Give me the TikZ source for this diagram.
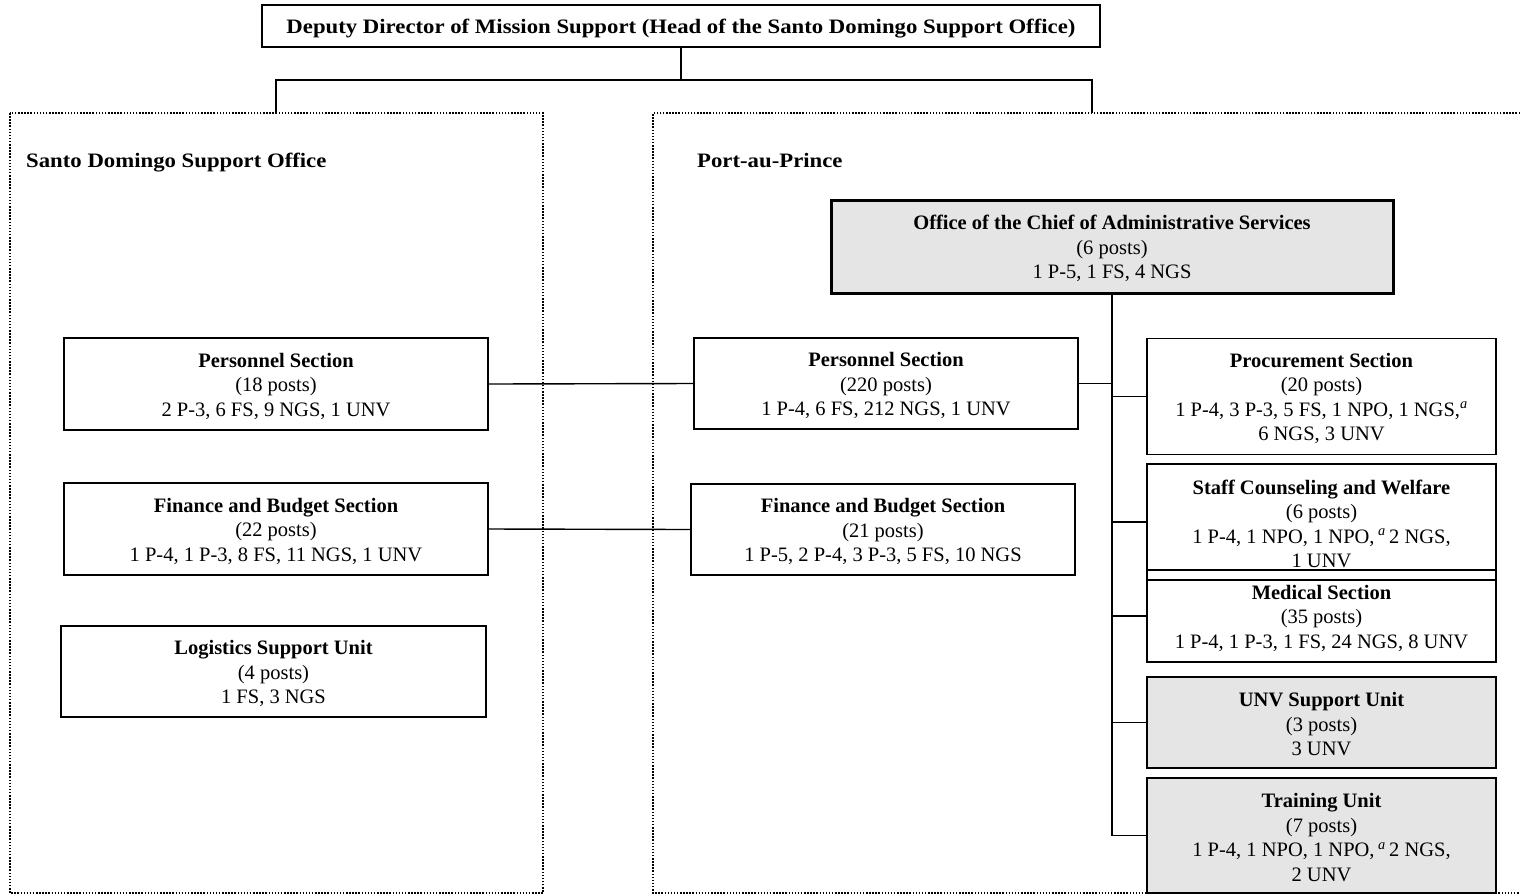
\documentclass[tikz,border=0pt]{standalone}
\usepackage{fontspec}
\setmainfont{Liberation Serif}
\newfontfamily\wideserif{Liberation Serif}[FakeStretch=1.11]
% box drawn as one node, its lines of text as a second node set slightly low
% #1 style, #2 name, #3 position, #4 width, #5 height, #6 text
\newcommand\orgbox[6]{%
  \node[#1, minimum width=#4, minimum height=#5] (#2) at #3 {};
  \node[boxtext] (#2-text) at ([yshift=-2pt]#2.center) {#6};}
\begin{document}
\begin{tikzpicture}[x=1pt,y=-1pt,
  every node/.style={font=\fontsize{20.5}{24.5}\selectfont},
  unit/.style={draw, line width=1.5pt, inner sep=0pt, anchor=center},
  shaded/.style={unit, fill=black!10},
  boxtext/.style={align=center, inner sep=0pt, anchor=center},
  link/.style={line width=1.4pt},
  region/.style={line width=1.5pt, dash pattern=on 1.5pt off 1.6pt},
  heading/.style={anchor=base west, inner sep=0pt, font=\fontsize{20.5}{24.5}\selectfont\wideserif\bfseries}]
\useasboundingbox (0,0) rectangle (1520,895);

% top of the hierarchy
\node[unit, minimum width=838pt, minimum height=42pt] (top) at (681,26) {};
\node[boxtext, font=\fontsize{20.5}{24.5}\selectfont\wideserif\bfseries] (top-text)
  at ([yshift=-3pt]top.center)
  {Deputy Director of Mission Support (Head of the Santo Domingo Support Office)};

% the two locations
\draw[region] (10,113) rectangle (543,893);
\draw[region] (1520,113) -- (653,113) -- (653,893) -- (1520,893);
\node[heading] (sdlabel) at (26,167) {Santo Domingo Support Office};
\node[heading] (paplabel) at (697,167) {Port-au-Prince};

\coordinate (sdtop) at (276,113);
\coordinate (paptop) at (1092,113);
\coordinate (hl) at (276,80);
\coordinate (hr) at (1092,80);
\draw[link] (top.south) -- (top.south |- hl);
\draw[link] (sdtop) -- (hl) -- (hr) -- (paptop);

% Santo Domingo units
\orgbox{unit}{spers}{(276,384)}{424pt}{92pt}
  {\textbf{Personnel Section}\\(18 posts)\\2 P-3, 6 FS, 9 NGS, 1 UNV}
\orgbox{unit}{sfin}{(276,529)}{424pt}{92pt}
  {\textbf{Finance and Budget Section}\\(22 posts)\\1 P-4, 1 P-3, 8 FS, 11 NGS, 1 UNV}
\orgbox{unit}{slog}{(273.5,671.5)}{425pt}{91pt}
  {\textbf{Logistics Support Unit}\\(4 posts)\\1 FS, 3 NGS}

% Port-au-Prince units
\orgbox{shaded, line width=3pt}{office}{(1112,246.5)}{562pt}{93pt}
  {\textbf{Office of the Chief of Administrative Services}\\(6 posts)\\1 P-5, 1 FS, 4 NGS}
\orgbox{unit}{ppers}{(886,383.5)}{384pt}{91pt}
  {\textbf{Personnel Section}\\(220 posts)\\1 P-4, 6 FS, 212 NGS, 1 UNV}
\orgbox{unit}{pfin}{(883,529.5)}{384pt}{91pt}
  {\textbf{Finance and Budget Section}\\(21 posts)\\1 P-5, 2 P-4, 3 P-3, 5 FS, 10 NGS}

\orgbox{unit}{proc}{(1321.5,396.5)}{349pt}{116pt}
  {\textbf{Procurement Section}\\(20 posts)\\1 P-4, 3 P-3, 5 FS, 1 NPO, 1 NGS,\textsuperscript{\textit{a}}\\6 NGS, 3 UNV}
\orgbox{unit}{staff}{(1321.5,522)}{349pt}{116pt}
  {\textbf{Staff Counseling and Welfare}\\(6 posts)\\1 P-4, 1 NPO, 1 NPO,\,\textsuperscript{\textit{a}}\,2 NGS,\\1 UNV}
\orgbox{unit}{med}{(1321.5,616)}{349pt}{92pt}
  {\textbf{Medical Section}\\(35 posts)\\1 P-4, 1 P-3, 1 FS, 24 NGS, 8 UNV}
\orgbox{shaded}{unv}{(1321.5,722.5)}{349pt}{91pt}
  {\textbf{UNV Support Unit}\\(3 posts)\\3 UNV}
\orgbox{shaded}{train}{(1321.5,835.5)}{349pt}{115pt}
  {\textbf{Training Unit}\\(7 posts)\\1 P-4, 1 NPO, 1 NPO,\,\textsuperscript{\textit{a}}\,2 NGS,\\2 UNV}

% connectors
\draw[link] (office.south) -- (office.south |- train.west);
\draw[link] (ppers.east) -- (ppers.east -| office.south);
\foreach \n in {proc,staff,med,unv,train}
  \draw[link] (office.south |- \n.west) -- (\n.west);
\draw[link] (spers.east) -- (ppers.west);
\draw[link] (sfin.east) -- (pfin.west);
\end{tikzpicture}
\end{document}
